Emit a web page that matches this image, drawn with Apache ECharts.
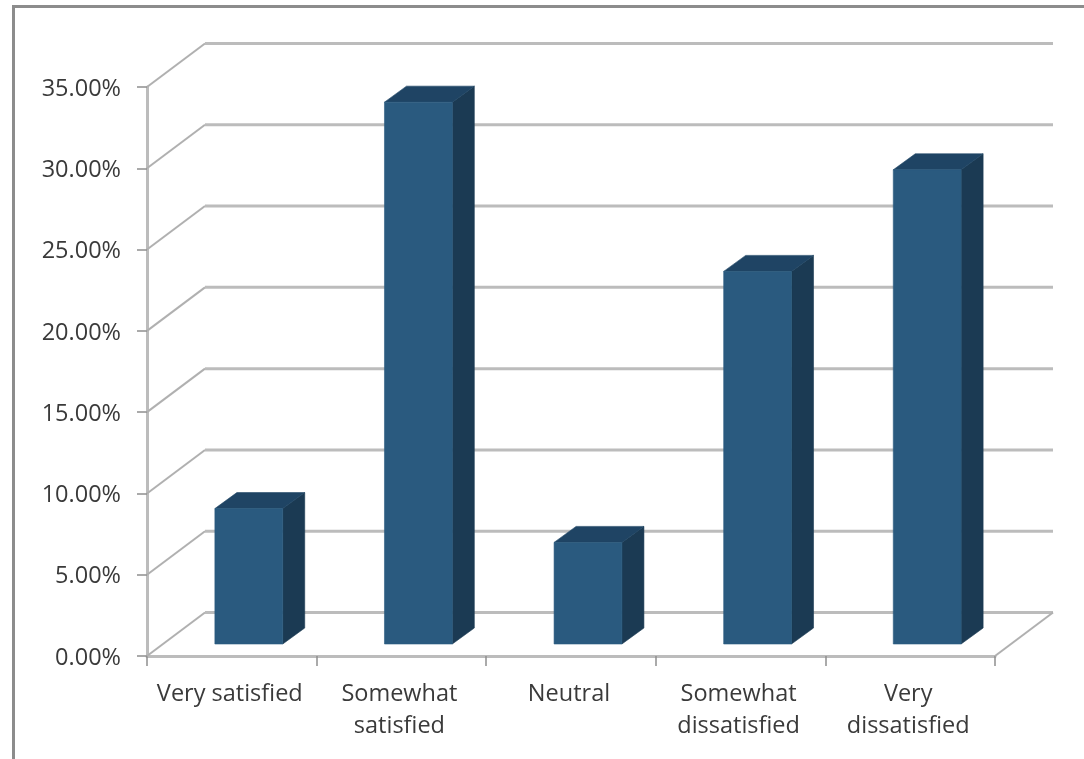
<!DOCTYPE html>
<html>
<head>
<meta charset="utf-8">
<style>html,body{margin:0;padding:0;background:#fff;overflow:hidden}#chart{width:1084px;height:759px}</style>
<script src="https://cdn.jsdelivr.net/npm/echarts@6/dist/echarts.min.js"></script>
</head>
<body>
<div id="chart"></div>
<script>
const categories = ['Very satisfied', 'Somewhat\nsatisfied', 'Neutral', 'Somewhat\ndissatisfied', 'Very\ndissatisfied'];
const shares = [8.33, 33.33, 6.25, 22.92, 29.17];
const wallTicks = [0, 5, 10, 15, 20, 25, 30, 35];

// Oblique projection used for the fake 3D box
const WALL_DX = 58, WALL_DY = -43.5;
const BAR_DX = 17, BAR_DY = -12;
const DEPTH_DX = 22, DEPTH_DY = -16;

const gridStyle = { stroke: '#bcbcbc', lineWidth: 3, fill: null };
const diagStyle = { stroke: '#b0b0b0', lineWidth: 2, fill: null };

function renderWall(params, api) {
  const v = api.value(0);
  const cs = params.coordSys;
  const y = api.coord([0, v])[1];
  const x0 = cs.x, x1 = cs.x + cs.width;
  const children = [
    { type: 'line', shape: { x1: x0, y1: y, x2: x0 + WALL_DX, y2: y + WALL_DY }, style: diagStyle },
    { type: 'line', shape: { x1: x0 + WALL_DX, y1: y + WALL_DY, x2: x1 + WALL_DX, y2: y + WALL_DY }, style: gridStyle }
  ];
  if (v === 0) {
    children.push({ type: 'line', shape: { x1: x1, y1: y, x2: x1 + WALL_DX, y2: y + WALL_DY }, style: diagStyle });
  }
  return { type: 'group', children };
}

function face(points, color) {
  return { type: 'polygon', shape: { points }, style: { fill: color, stroke: color, lineWidth: 0.6 } };
}

function renderBar(params, api) {
  const i = api.value(0);
  const top = api.coord([i, api.value(1)]);
  const base = api.coord([i, 0]);
  const w = api.size([1, 0])[0] * 0.4;
  const l = top[0] - w / 2 + BAR_DX, r = l + w;
  const t = top[1] + BAR_DY, b = base[1] + BAR_DY;
  return {
    type: 'group',
    children: [
      face([[r, t], [r + DEPTH_DX, t + DEPTH_DY], [r + DEPTH_DX, b + DEPTH_DY], [r, b]], '#1b3a53'),
      face([[l, t], [l + DEPTH_DX, t + DEPTH_DY], [r + DEPTH_DX, t + DEPTH_DY], [r, t]], '#1f4464'),
      face([[l, t], [r, t], [r, b], [l, b]], '#2a5a7f')
    ]
  };
}

const chart = echarts.init(document.getElementById('chart'), null, { renderer: 'canvas' });
chart.setOption({
  animation: false,
  backgroundColor: '#ffffff',
  graphic: [
    { type: 'polyline', silent: true, shape: { points: [[13.5, 759], [13.5, 6.5], [1084, 6.5]] }, style: { stroke: '#8c8c8c', lineWidth: 3, fill: null } }
  ],
  grid: { left: 147, top: 87, width: 848, height: 569 },
  xAxis: {
    type: 'category',
    data: categories,
    axisLine: { lineStyle: { color: '#bcbcbc', width: 3 } },
    axisTick: { show: true, length: 10, lineStyle: { color: '#8f8f8f', width: 1.5 } },
    axisLabel: { color: '#3a3a3a', fontFamily: 'Open Sans', fontSize: 23.5, margin: 22, lineHeight: 32, interval: 0, padding: [0, 4, 0, 0] },
    splitLine: { show: false }
  },
  yAxis: {
    type: 'value',
    min: 0,
    max: 35,
    interval: 5,
    axisLine: { show: true, lineStyle: { color: '#bcbcbc', width: 3 } },
    axisTick: { show: true, length: 10, lineStyle: { color: '#8f8f8f', width: 1.5 } },
    axisLabel: { color: '#3a3a3a', fontFamily: 'Open Sans', fontSize: 23.5, margin: 26, verticalAlign: 'top', lineHeight: 4, formatter: v => v.toFixed(2) + '%' },
    splitLine: { show: false }
  },
  series: [
    { type: 'custom', silent: true, z: 1, renderItem: renderWall, data: wallTicks.map(v => [v]), encode: { y: 0 } },
    { type: 'custom', silent: true, z: 2, renderItem: renderBar, data: shares.map((v, i) => [i, v]), encode: { x: 0, y: 1 } }
  ]
});
</script>
</body>
</html>
